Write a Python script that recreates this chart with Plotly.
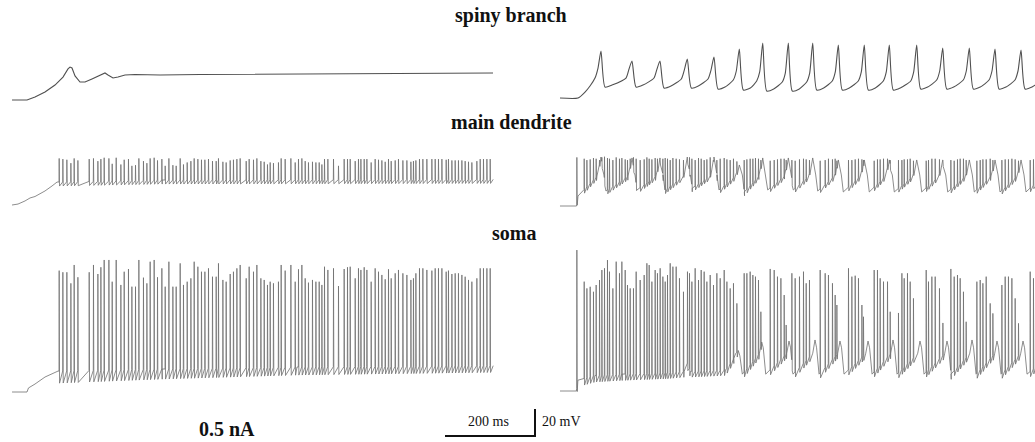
import numpy as np
import plotly.graph_objects as go

# ======================= DATA (time in ms, membrane potential in mV) =======================
# ---- left column: 0.5 nA ----
spiny_left_t = [-33.3, 0, 17.8, 40, 62.2, 80, 91.1, 95.6, 100, 106.7, 117.8, 128.9, 144.4, 162.2,
                173.3, 180, 191.1, 202.2, 217.8, 240, 273.3, 295.6, 384.4, 606.7, 828.9, 1035.6]
spiny_left_v = [-70, -70, -67.8, -64.1, -58.9, -53.0, -47.0, -45.6, -46.3, -52.2, -56.7, -56.7, -54.4, -51.5,
                -50.0, -51.5, -53.7, -53.0, -51.5, -51.1, -51.5, -51.5, -51.1, -50.7, -50.4, -50.0]

left_spike_t = [71.1, 79.3, 88.2, 97.1, 104.4, 112.7, 137.8, 147.3, 157.1, 163.8,
                171.1, 181.6, 188.9, 197.8, 208.2, 215.6, 225.1, 232.7, 240.7, 248.2,
                258.4, 266.0, 273.3, 282.2, 289.6, 299.3, 306.7, 314.9, 323.8, 331.1,
                340.0, 347.3, 355.6, 363.8, 371.1, 379.3, 387.3, 394.9, 402.9, 411.8,
                420.0, 425.1, 434.9, 442.2, 451.1, 458.4, 466.0, 473.3, 486.7, 493.3,
                502.9, 510.4, 519.3, 526.7, 534.0, 540.0, 547.3,
                558.4, 564.4, 573.3, 586.0, 595.6, 602.9, 610.4, 617.8, 625.1, 634.0,
                641.6, 648.9, 654.9, 660.7, 668.2, 680.7, 691.8, 704.4, 711.8, 717.8,
                728.9, 736.2, 741.6, 748.9, 754.9, 764.4, 773.3, 780.7, 788.2, 795.6,
                802.9, 808.9, 817.8, 825.1, 834.9, 843.8, 852.7, 858.4, 863.8, 871.8,
                879.3, 888.2, 899.3, 906.7, 914.0, 921.6, 931.1, 936.2, 943.8, 951.1,
                958.4, 966.0, 973.3, 980.7, 988.2, 999.3, 1006.7, 1014.0, 1021.6, 1028.9]
left_soma_peak = [19.9, 18.7, 18.7, 10.5, 24.1, 15.0, 18.7, 24.1, 17.4, 22.4,
                  27.8, 27.8, 11.7, 27.8, 9.3, 19.1, 21.1, 8.0, 8.0, 27.8,
                  14.7, 10.5, 26.5, 27.8, 15.0, 21.6, 8.0, 26.5, 8.0, 8.0,
                  25.3, 9.3, 11.7, 14.2, 26.5, 22.8, 19.1, 19.1, 21.6, 15.4,
                  15.4, 25.3, 13.0, 11.7, 17.4, 19.1, 21.6, 24.1, 14.2, 22.8,
                  19.1, 24.1, 14.2, 13.0, 9.3, 11.7, 10.5,
                  11.7, 24.1, 19.9, 24.1, 11.7, 20.9, 24.1, 14.2, 11.0, 13.0,
                  11.7, 11.7, 9.3, 22.8, 20.4, 21.6, 8.5, 21.1, 22.4, 22.8,
                  14.2, 21.6, 20.4, 22.4, 20.4, 11.7, 21.6, 19.1, 16.7, 13.5,
                  20.9, 14.2, 17.9, 20.4, 17.9, 16.7, 13.0, 14.2, 17.9, 21.6,
                  21.6, 20.4, 19.9, 21.6, 21.6, 21.6, 19.1, 19.9, 17.4, 17.9,
                  17.9, 16.7, 15.4, 13.0, 11.7, 14.2, 21.6, 21.6, 21.6, 21.6]
left_dend_peak = [-35.5, -36.0, -36.5, -39.0, -35.5, -37.0, -36.0, -35.5, -37.5, -36.0,
                  -35.0, -35.5, -39.5, -35.0, -40.0, -36.5, -36.0, -41.0, -40.5, -35.5,
                  -37.5, -39.0, -35.5, -35.0, -37.0, -36.0, -41.0, -35.5, -40.5, -41.0,
                  -35.5, -40.0, -38.5, -37.5, -35.5, -36.0, -36.5, -36.5, -36.0, -37.5,
                  -37.5, -35.5, -38.0, -38.5, -37.0, -36.5, -36.0, -35.5, -37.5, -36.0,
                  -36.5, -35.5, -37.5, -38.0, -40.0, -38.5, -39.0,
                  -38.5, -35.5, -36.0, -35.5, -38.5, -36.0, -35.5, -37.5, -38.5, -38.0,
                  -38.5, -38.5, -40.0, -36.0, -36.0, -36.0, -41.0, -36.0, -36.0, -36.0,
                  -37.5, -36.0, -36.0, -36.0, -36.0, -38.5, -36.0, -36.5, -37.0, -38.0,
                  -36.0, -37.5, -37.0, -36.0, -37.0, -37.0, -38.0, -37.5, -37.0, -36.0,
                  -36.0, -36.0, -36.0, -36.0, -36.0, -36.0, -36.5, -36.0, -37.0, -37.0,
                  -37.0, -37.0, -37.5, -38.0, -38.5, -37.5, -36.0, -36.0, -36.0, -36.0]
left_soma_base_t = [-33.3, 0, 3.3, 17.8, 40, 62.2, 68.9, 300, 600, 1036]
left_soma_base_v = [-70, -70, -67.0, -64.1, -58.9, -55.2, -54.5, -53.0, -51.5, -50.5]
left_soma_ahp_t = [68.9, 300, 600, 1036]
left_soma_ahp_v = [9, 7.5, 6, 5]
left_dend_base_t = [-33.3, -20, -4.4, 6.7, 17.8, 40, 55.6, 66.7, 300, 1036]
left_dend_base_v = [-70, -69.3, -67.0, -64.8, -63.7, -59.6, -55.9, -53.0, -51.5, -51.0]
left_dend_ahp_t = [0, 1036]
left_dend_ahp_v = [3, 3]

# ---- right column ----
right_spiny_t = [-37.8, 2.2, 17.8, 28.9, 40.0, 46.7, 53.3,
                 62.2, 77.8, 108.9, 115.6, 122.2,
                 131.1, 146.7, 171.1, 177.8, 184.4,
                 193.3, 208.9, 231.8, 238.4, 245.1,
                 254.0, 269.6, 291.1, 297.8, 304.4,
                 313.3, 328.9, 347.3, 354.0, 360.7,
                 369.6, 385.1, 399.3, 406.0, 412.7,
                 421.6, 437.1, 456.2, 462.9, 469.6,
                 478.4, 494.0, 510.4, 517.1, 523.8,
                 532.7, 548.2, 567.3, 574.0, 580.7,
                 589.6, 605.1, 625.1, 631.8, 638.4,
                 647.3, 662.9, 680.7, 687.3, 694.0,
                 702.9, 718.4, 741.6, 748.2, 754.9,
                 763.8, 779.3, 799.3, 806.0, 812.7,
                 821.6, 837.1, 858.4, 865.1, 871.8,
                 880.7, 896.2, 915.6, 922.2, 928.9,
                 937.8, 953.3, 973.3, 980.0, 986.7,
                 995.6, 1011.1, 1031.1, 1037.8, 1044.4]
right_spiny_v = [-70, -70, -65.6, -61.1, -55.2, -47.8, -35.2,
                 -61.9, -60.4, -55.2, -48.5, -42.6,
                 -61.9, -60.4, -55.2, -48.5, -42.6,
                 -62.6, -61.1, -55.9, -49.3, -41.1,
                 -62.6, -61.1, -55.9, -49.3, -39.6,
                 -63.3, -61.9, -56.7, -50.0, -33.7,
                 -64.1, -62.6, -57.4, -50.7, -29.3,
                 -64.8, -63.3, -58.1, -51.5, -29.3,
                 -64.8, -63.3, -58.1, -51.5, -29.3,
                 -64.1, -62.6, -57.4, -50.7, -30.7,
                 -64.1, -62.6, -57.4, -50.7, -30.7,
                 -64.1, -62.6, -57.4, -50.7, -30.7,
                 -64.1, -62.6, -57.4, -50.7, -30.7,
                 -63.3, -61.9, -56.7, -50.0, -33.0,
                 -63.3, -61.9, -56.7, -50.0, -33.0,
                 -63.3, -61.9, -56.7, -50.0, -33.7,
                 -63.3, -61.9, -56.7, -50.0, -34.4,
                 -63.3, -61.9, -56.7, -50.0, -34.4]

right_spike_t = [-0.7, 15.6, 21.6, 28.9, 36.2, 42.2, 49.6, 54.9, 60.7, 67.3,
                 71.8, 79.3, 86.7, 94.0, 99.3, 106.7, 111.8, 117.8, 125.1, 131.1,
                 140.0, 148.9, 154.9, 160.0, 166.0, 173.3, 178.4, 184.4, 190.4, 195.6,
                 200.7, 206.7, 212.7, 220.0, 227.3, 236.2, 245.1, 249.6, 254.9, 262.2,
                 269.6, 275.6, 282.2, 288.2, 295.6, 302.9, 310.4, 317.8, 326.7, 332.7,
                 340.0, 347.3, 354.9,
                 371.1, 377.1, 384.4, 390.4, 396.2, 402.9, 408.2,
                 428.9, 437.8, 445.1, 452.7, 460.0, 464.4,
                 477.1, 484.4, 494.0, 502.9, 508.9, 516.2,
                 540.0, 551.1, 558.4, 567.3, 573.3, 577.1,
                 602.9, 610.4, 617.8, 625.1, 632.7, 636.2,
                 660.0, 667.3, 673.3, 680.7, 689.6, 695.6,
                 714.0, 721.6, 726.7, 734.0, 740.0, 747.3,
                 775.6, 780.7, 788.2, 795.6, 805.1, 812.7,
                 830.4, 837.8, 845.1, 851.1, 858.4, 864.4,
                 888.2, 895.6, 901.6, 908.9, 917.8, 923.8,
                 943.8, 951.1, 958.4, 966.0, 973.3, 980.7,
                 1006.7, 1014.0]
right_soma_peak = [34.4, 11.0, 6.0, 7.2, 3.5, 8.5, 12.2, 19.6, 20.9, 27.0,
                   18.4, 6.0, 25.8, 17.2, 25.8, 19.6, 8.5, 6.0, 6.0, 18.4,
                   12.2, 15.9, 24.6, 23.3, 11.0, 19.6, 17.2, 20.9, 14.7, 11.0,
                   15.9, 24.6, 22.1, 22.1, 13.5, 3.5, 18.4, 17.2, 11.0, 20.9,
                   12.2, 19.6, 18.4, 11.0, 15.9, 8.5, 17.2, 13.5, 19.6, 11.0,
                   6.0, 9.8, -5.1,
                   17.2, 17.2, 18.4, 15.9, 14.7, 12.2, -11.3,
                   20.4, 19.6, 14.7, 13.5, 1.1, -21.1,
                   17.2, 13.5, 14.7, 18.4, 9.8, 12.2,
                   19.6, 17.2, 15.9, 9.8, 1.1, -6.3,
                   20.9, 14.7, 15.4, 13.5, -6.3, -15.0,
                   19.6, 19.6, 13.5, 11.0, 11.0, -11.3,
                   -12.2, 17.2, 13.5, 17.2, 11.0, -1.4,
                   19.6, 11.0, 14.7, 14.7, 6.0, -19.6,
                   20.4, 14.7, 15.9, 13.5, 3.5, -18.7,
                   11.0, 12.2, 9.8, 14.7, -5.1, -12.5,
                   8.5, 14.7, 14.7, 13.5, -1.4, -19.9,
                   18.4, 13.5]
right_dend_peak = [-34.0, -35.0, -36.0, -35.5, -34.5, -35.0, -36.0, -34.0, -33.5, -34.5,
                   -35.0, -36.0, -34.0, -35.0, -34.5, -35.5, -36.0, -35.0, -34.0, -35.0,
                   -36.0, -35.5, -34.0, -35.0, -35.5, -34.5, -35.0, -36.0, -35.0, -34.5,
                   -35.0, -36.0, -34.5, -35.0, -35.5, -36.0, -35.0, -34.0, -35.0, -36.0,
                   -34.5, -35.0, -36.0, -35.5, -34.0, -35.0, -36.0, -35.0, -34.5, -35.5,
                   -36.0, -35.0, -37.0,
                   -36.0, -35.5, -35.0, -35.0, -34.5, -35.0, -36.0,
                   -36.5, -36.0, -35.5, -35.0, -35.0, -36.0,
                   -36.0, -36.5, -35.5, -35.0, -35.5, -36.0,
                   -36.5, -36.0, -35.0, -35.5, -35.0, -36.5,
                   -36.0, -36.0, -35.5, -35.0, -35.5, -36.0,
                   -36.5, -35.5, -35.5, -35.0, -35.0, -36.0,
                   -36.0, -36.0, -35.5, -35.5, -35.0, -36.5,
                   -36.5, -36.0, -35.0, -35.0, -35.5, -36.0,
                   -36.0, -36.5, -35.5, -35.0, -35.0, -36.0,
                   -36.5, -36.0, -35.5, -35.5, -35.0, -36.0,
                   -36.0, -35.5, -35.5, -35.0, -35.5, -36.5,
                   -36.0, -35.5]
right_soma_base_t = [-37.8, -1.5, 2.0, 40, 100, 200, 238, 245, 252, 330, 348, 353,
                     358.4, 361.9, 367.4, 405.4,
                     410.4, 413.9, 419.4, 466.1,
                     471.1, 474.6, 480.1, 523.9,
                     528.9, 532.4, 537.9, 579.4,
                     584.4, 587.9, 593.4, 641.7,
                     646.7, 650.2, 655.7, 697.2,
                     702.2, 705.7, 711.2, 757.2,
                     762.2, 765.7, 771.2, 817.2,
                     822.2, 825.7, 831.2, 872.8,
                     877.8, 881.3, 886.8, 928.3,
                     933.3, 936.8, 942.3, 986.1,
                     991.1, 994.6, 1000.1, 1020]
right_soma_base_v = [-70, -70, -62.0, -58.5, -57.5, -56.5, -55.5, -49.5, -55.5, -54.5, -46, -42,
                     -40.0, -44, -57.5, -42,
                     -33.7, -38, -57.5, -42,
                     -33.0, -38, -57.5, -42,
                     -32.2, -38, -57.5, -42,
                     -33.0, -38, -57.5, -42,
                     -33.0, -38, -57.5, -42,
                     -32.2, -38, -57.5, -42,
                     -33.0, -38, -57.5, -42,
                     -33.0, -38, -57.5, -42,
                     -32.2, -38, -57.5, -42,
                     -33.0, -38, -57.5, -42,
                     -33.0, -38, -57.5, -52]
right_soma_ahp_t = [0, 350, 1020]
right_soma_ahp_v = [5, 4, 4]
right_dend_base_t = [-37.8, -1.1, 2.2, 44.4, 53.3,
                     60.0, 64.4, 113.3, 122.2,
                     128.9, 133.3, 175.5, 184.4,
                     191.1, 195.5, 236.2, 245.1,
                     251.8, 256.2, 295.5, 304.4,
                     311.1, 315.5, 351.8, 360.7,
                     367.4, 371.8, 403.8, 412.7,
                     419.4, 423.8, 460.7, 469.6,
                     476.3, 480.7, 514.9, 523.8,
                     530.5, 534.9, 571.8, 580.7,
                     587.4, 591.8, 629.5, 638.4,
                     645.1, 649.5, 685.1, 694.0,
                     700.7, 705.1, 746.0, 754.9,
                     761.6, 766.0, 803.8, 812.7,
                     819.4, 823.8, 862.9, 871.8,
                     878.5, 882.9, 920.0, 928.9,
                     935.6, 940.0, 977.8, 986.7,
                     993.4, 997.8, 1035.5, 1044.4]
right_dend_base_v = [-70, -70, -62.6, -47.8, -33.7,
                     -47.0, -58.9, -47.8, -34.4,
                     -47.0, -58.1, -47.8, -34.4,
                     -47.0, -58.1, -47.8, -33.7,
                     -47.0, -56.7, -47.8, -33.7,
                     -47.0, -58.1, -47.8, -39.6,
                     -47.0, -59.6, -47.8, -34.4,
                     -47.0, -58.1, -47.8, -34.4,
                     -47.0, -58.1, -47.8, -34.4,
                     -47.0, -58.9, -47.8, -35.9,
                     -47.0, -59.6, -47.8, -35.9,
                     -47.0, -59.6, -47.8, -35.9,
                     -47.0, -59.6, -47.8, -35.9,
                     -47.0, -59.6, -47.8, -35.9,
                     -47.0, -59.6, -47.8, -35.9,
                     -47.0, -59.6, -47.8, -35.9,
                     -47.0, -59.6, -47.8, -35.9,
                     -47.0, -59.6, -47.8, -35.9]
right_dend_ahp_t = [0, 1044]
right_dend_ahp_v = [3, 3]

row_labels = ["spiny branch", "main dendrite", "soma"]
current_label = "0.5 nA"
scale_ms, scale_mv = 200, 20

# ======================= LAYOUT GEOMETRY =======================
W, H = 1035, 442
MS_PER_PX = 200 / 90
MV_PER_PX = 20 / 27
REST_MV = -70
LEFT_ONSET_PX, RIGHT_ONSET_PX = 27, 577
REST_PX = {"y": 100, "y2": 98, "y3": 205, "y4": 206, "y5": 392, "y6": 391}


def x_range(onset_px):
    return [(0 - onset_px) * MS_PER_PX, (W - onset_px) * MS_PER_PX]


def y_range(rest_px):
    return [REST_MV + (rest_px - H) * MV_PER_PX, REST_MV + rest_px * MV_PER_PX]


def spiking_path(base_t, base_v, spike_t, spike_peak, ahp_t, ahp_v):
    events = [(t, 0, v) for t, v in zip(base_t, base_v)] + \
             [(t, 1, p) for t, p in zip(spike_t, spike_peak)]
    events.sort()
    xs, ys = [], []
    for t, kind, v in events:
        if kind == 0:
            xs.append(t)
            ys.append(v)
        else:
            b0 = float(np.interp(t, base_t, base_v))
            b1 = float(np.interp(t + 1.2, base_t, base_v)) - float(np.interp(t, ahp_t, ahp_v))
            xs += [t, t + 0.4, t + 1.2]
            ys += [b0, v, b1]
    return xs, ys


fig = go.Figure()
SPINY = dict(color="#505050", width=1.1)
SPIKY = dict(color="#707070", width=0.8)

fig.add_trace(go.Scatter(x=spiny_left_t, y=spiny_left_v, xaxis="x", yaxis="y", mode="lines", line=SPINY))
fig.add_trace(go.Scatter(x=right_spiny_t, y=right_spiny_v, xaxis="x2", yaxis="y2", mode="lines",
                         line=dict(color="#505050", width=1.1, shape="spline", smoothing=0.6)))

x, y = spiking_path(left_dend_base_t, left_dend_base_v, left_spike_t, left_dend_peak, left_dend_ahp_t, left_dend_ahp_v)
fig.add_trace(go.Scatter(x=x, y=y, xaxis="x", yaxis="y3", mode="lines", line=SPIKY))
x, y = spiking_path(right_dend_base_t, right_dend_base_v, right_spike_t, right_dend_peak, right_dend_ahp_t, right_dend_ahp_v)
fig.add_trace(go.Scatter(x=x, y=y, xaxis="x2", yaxis="y4", mode="lines", line=SPIKY))
x, y = spiking_path(left_soma_base_t, left_soma_base_v, left_spike_t, left_soma_peak, left_soma_ahp_t, left_soma_ahp_v)
fig.add_trace(go.Scatter(x=x, y=y, xaxis="x", yaxis="y5", mode="lines", line=SPIKY))
x, y = spiking_path(right_soma_base_t, right_soma_base_v, right_spike_t, right_soma_peak, right_soma_ahp_t, right_soma_ahp_v)
fig.add_trace(go.Scatter(x=x, y=y, xaxis="x2", yaxis="y6", mode="lines", line=SPIKY))

# scale bar (left column time axis, left soma voltage axis)
corner_t = (535 - LEFT_ONSET_PX) * MS_PER_PX
corner_v = REST_MV + (REST_PX["y5"] - 436) * MV_PER_PX
fig.add_trace(go.Scatter(x=[corner_t - scale_ms, corner_t, corner_t],
                         y=[corner_v, corner_v, corner_v + scale_mv],
                         xaxis="x", yaxis="y5", mode="lines",
                         line=dict(color="#111111", width=2)))

axis_common = dict(visible=False, showgrid=False, zeroline=False, fixedrange=True, domain=[0, 1])
layout = dict(
    width=W, height=H, margin=dict(l=0, r=0, t=0, b=0),
    paper_bgcolor="white", plot_bgcolor="white", showlegend=False,
    xaxis=dict(range=x_range(LEFT_ONSET_PX), anchor="y", **axis_common),
    xaxis2=dict(range=x_range(RIGHT_ONSET_PX), anchor="y", overlaying="x", **axis_common),
)
for i, key in enumerate(["y", "y2", "y3", "y4", "y5", "y6"]):
    name = "yaxis" if i == 0 else f"yaxis{i + 1}"
    d = dict(range=y_range(REST_PX[key]), anchor="x", **axis_common)
    if i > 0:
        d["overlaying"] = "y"
    layout[name] = d
fig.update_layout(**layout)

SERIF = "Liberation Serif, Times New Roman, serif"


def px_ann(text, xpx, ypx, size, bold=False, xanchor="center"):
    fig.add_annotation(text=f"<b>{text}</b>" if bold else text,
                       x=xpx / W, y=1 - ypx / H, xref="paper", yref="paper",
                       xanchor=xanchor, yanchor="middle", showarrow=False,
                       font=dict(family=SERIF, size=size, color="#111111"))


px_ann(row_labels[0], 511, 16, 20, bold=True)
px_ann(row_labels[1], 511, 122, 20, bold=True)
px_ann(row_labels[2], 514, 233, 20, bold=True)
px_ann(current_label, 227, 429, 20, bold=True)
px_ann(f"{scale_ms} ms", 488, 421, 14)
px_ann(f"{scale_mv} mV", 540, 421, 14, xanchor="left")

fig.write_html("out.html")
